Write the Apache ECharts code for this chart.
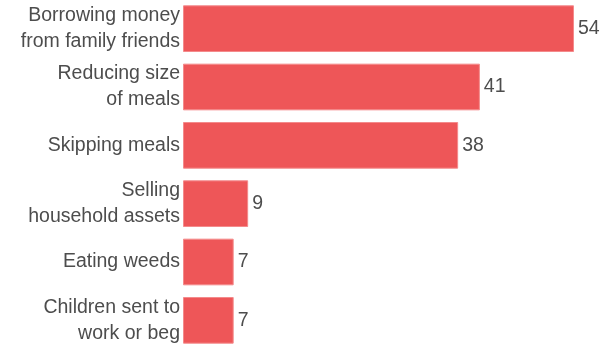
<!DOCTYPE html>
<html>
<head>
<meta charset="utf-8">
<style>
  html, body { margin: 0; padding: 0; background: #ffffff; }
  #chart { width: 614px; height: 346px; }
</style>
<script src="https://cdn.jsdelivr.net/npm/echarts@6/dist/echarts.min.js"></script>
</head>
<body>
<div id="chart"></div>
<script>
// Coping strategies, listed top to bottom
const categories = [
  'Borrowing money\nfrom family friends',
  'Reducing size\nof meals',
  'Skipping meals',
  'Selling\nhousehold assets',
  'Eating weeds',
  'Children sent to\nwork or beg'
];
const values = [54, 41, 38, 9, 7, 7];

const chart = echarts.init(document.getElementById('chart'), null, { renderer: 'canvas' });

chart.setOption({
  animation: false,
  grid: {
    left: 183, top: -0.5, width: 391, height: 350,
    containLabel: false,
    outerBoundsMode: 'none'
  },
  xAxis: {
    type: 'value',
    min: 0,
    max: 54,
    show: false
  },
  yAxis: {
    type: 'category',
    inverse: true,
    data: categories,
    axisLine: { show: false },
    axisTick: { show: false },
    axisLabel: {
      margin: 3,
      fontFamily: 'Liberation Sans, Arial, sans-serif',
      fontSize: 19.5,
      lineHeight: 26,
      color: '#4d4d4d',
      align: 'right'
    }
  },
  series: [{
    type: 'bar',
    data: values,
    barCategoryGap: '20%',
    itemStyle: {
      color: '#ee5658',
      borderColor: '#f48a8b',
      borderWidth: 1
    },
    label: {
      show: true,
      position: 'right',
      distance: 4,
      fontFamily: 'Liberation Sans, Arial, sans-serif',
      fontSize: 19.5,
      color: '#4d4d4d'
    }
  }]
});
</script>
</body>
</html>
